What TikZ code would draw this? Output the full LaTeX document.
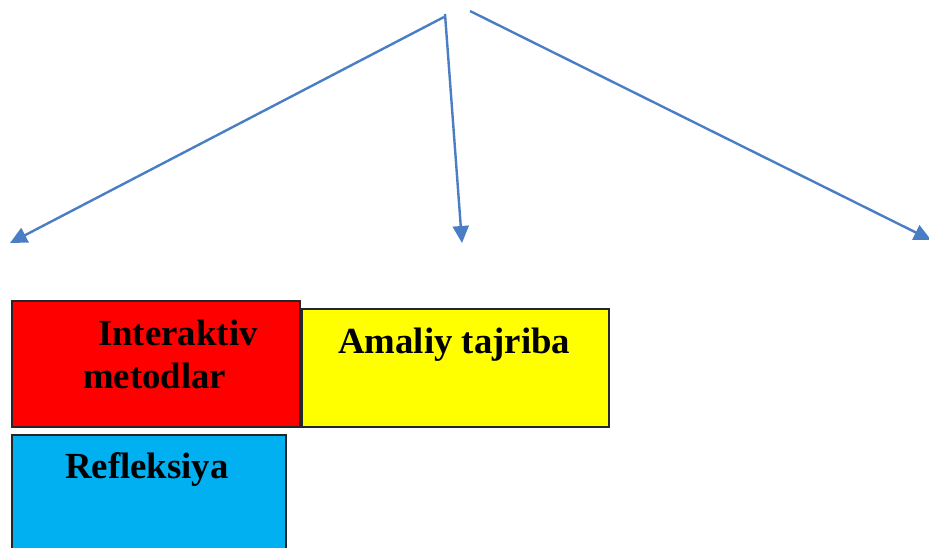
\documentclass[tikz,border=0pt]{standalone}
\usepackage{fontspec}
\setmainfont{Liberation Serif}
\usetikzlibrary{arrows.meta}
\definecolor{lineblue}{HTML}{4A7EC4}
\definecolor{boxred}{HTML}{FF0000}
\definecolor{boxyellow}{HTML}{FFFF00}
\definecolor{boxblue}{HTML}{00B0F0}
\tikzset{
  conn/.style={draw=lineblue, line width=2.4pt, -{Triangle[length=17pt,width=16pt]}},
  boxstyle/.style={draw=black!85, line width=1.5pt},
  lbl/.style={anchor=base west, inner sep=0pt, font=\fontsize{36.8}{43}\bfseries\selectfont}
}
\begin{document}
\begin{tikzpicture}[x=1pt,y=-1pt]
\useasboundingbox (0,0) rectangle (929,547);
\clip (0,0) rectangle (929,547);
% start points and tips
\coordinate (s1) at (444,17);
\coordinate (s2) at (445,14);
\coordinate (s3) at (470,11);
\coordinate (t1) at (10,243);
\coordinate (t2) at (462,243);
\coordinate (t3) at (931,240);
\draw[conn] (s1) -- (t1);
\draw[conn] (s2) -- (t2);
\draw[conn] (s3) -- (t3);
% boxes
\draw[boxstyle, fill=boxred] (12,301) rectangle (300,427);
\draw[boxstyle, fill=boxyellow] (302,309) rectangle (609,427);
\draw[boxstyle, fill=boxblue] (12,435) rectangle (286,560);
% labels
\node[lbl] (l1) at (98,345) {Interaktiv};
\node[lbl] (l2) at (83,388) {metodlar};
\node[lbl] (l3) at (338,353) {Amaliy tajriba};
\node[lbl] (l4) at (65,478) {Refleksiya};
\end{tikzpicture}
\end{document}
